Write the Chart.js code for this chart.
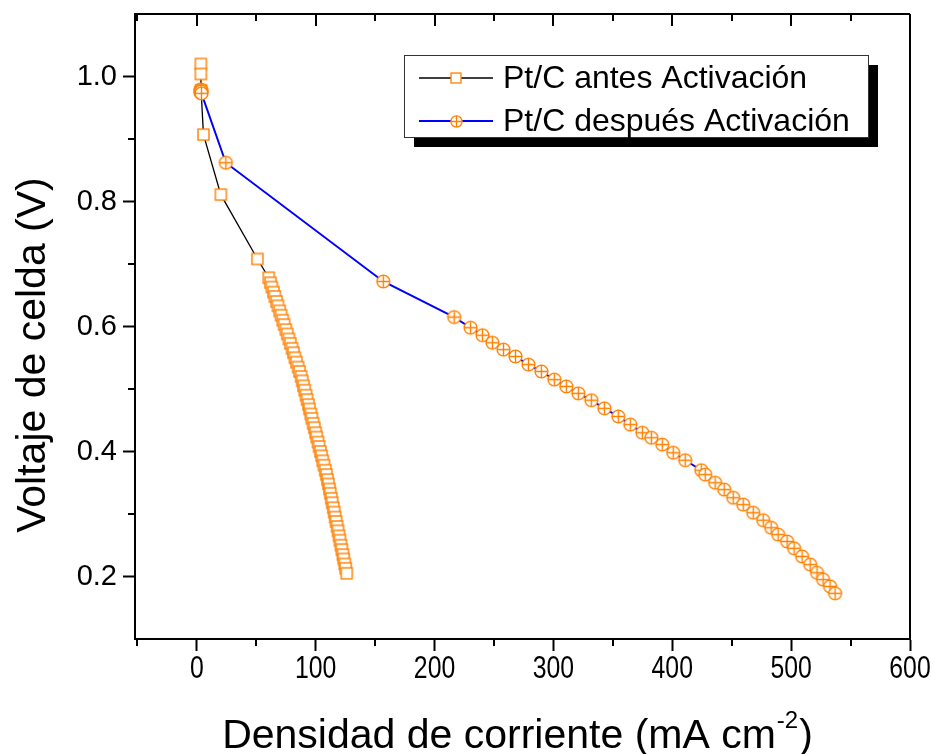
<!DOCTYPE html>
<html>
<head>
<meta charset="utf-8">
<script src="https://cdn.jsdelivr.net/npm/chart.js@4/dist/chart.umd.min.js"></script>
<style>
  html, body { margin: 0; padding: 0; background: #fff; }
  #wrap { width: 935px; height: 754px; position: relative; }
</style>
</head>
<body>
<div id="wrap"><canvas id="c" width="935" height="754"></canvas></div>
<script>
// Polarisation curves: current density (mA cm-2) vs cell voltage (V)
const currentBefore = [3.4, 3.4, 3.6, 5.6, 20.2, 51.0,
  60.5, 61.9, 63.1, 64.5, 65.7, 67.1, 68.3, 69.7, 70.9, 72.3, 73.5, 74.9, 76.1, 77.5, 78.7, 80.1,
  81.3, 82.6, 83.8, 85.2, 86.4, 87.8, 88.7, 89.8, 90.8, 91.9, 92.8, 93.9, 94.8, 95.9, 96.8, 97.9,
  98.9, 100.0, 100.9, 102.0, 102.9, 104.0, 105.0, 106.0, 107.0, 108.1, 109.0, 109.9, 110.7, 111.6,
  112.3, 113.2, 113.9, 114.8, 115.6, 116.4, 117.2, 118.0, 118.8, 119.7, 120.4, 121.3, 122.0, 122.9,
  123.6, 124.5, 125.2, 126.1];
const voltageBefore = [1.020, 1.004, 0.978, 0.907, 0.811, 0.708,
  0.678, 0.670, 0.663, 0.655, 0.648, 0.640, 0.633, 0.625, 0.618, 0.610, 0.603, 0.595, 0.588, 0.580, 0.573, 0.565,
  0.558, 0.550, 0.543, 0.535, 0.528, 0.520, 0.513, 0.505, 0.498, 0.490, 0.483, 0.475, 0.468, 0.460, 0.453, 0.445,
  0.438, 0.430, 0.423, 0.415, 0.408, 0.400, 0.393, 0.385, 0.378, 0.370, 0.363, 0.355, 0.348, 0.340,
  0.333, 0.325, 0.318, 0.310, 0.303, 0.295, 0.288, 0.280, 0.273, 0.265, 0.258, 0.250, 0.243, 0.235,
  0.228, 0.220, 0.213, 0.205];

const currentAfter = [3.2, 3.4, 3.5, 3.7, 3.3, 3.6, 3.9, 24.4, 156.9,
  216.5, 230.3, 240.3, 248.7, 258.0, 268.1, 279.0, 289.9, 300.8, 310.9, 321.0, 331.9, 342.9,
  354.6, 364.7, 374.8, 382.4, 391.6, 400.8, 410.9, 424.4, 427.7, 436.1, 443.7, 451.3, 459.7,
  468.1, 476.5, 483.2, 489.1, 496.6, 502.5, 509.2, 516.0, 521.8, 526.9, 532.8, 537.0];
const voltageAfter = [0.979, 0.977, 0.975, 0.978, 0.974, 0.976, 0.973, 0.862, 0.672,
  0.615, 0.598, 0.586, 0.574, 0.563, 0.552, 0.539, 0.528, 0.515, 0.504, 0.493, 0.482, 0.469,
  0.456, 0.443, 0.430, 0.422, 0.411, 0.398, 0.386, 0.370, 0.363, 0.350, 0.339, 0.326, 0.315,
  0.302, 0.290, 0.278, 0.267, 0.256, 0.245, 0.232, 0.219, 0.206, 0.195, 0.184, 0.173];

const seriesLabels = ['Pt/C antes Activación', 'Pt/C después Activación'];
const xTickValues = [0, 100, 200, 300, 400, 500, 600];
const xMinorValues = [-50, 50, 150, 250, 350, 450, 550];
const yTickValues = [0.2, 0.4, 0.6, 0.8, 1.0];
const yMinorValues = [0.3, 0.5, 0.7, 0.9];

const ORANGE = '#ff8000';
const SANS = '"Liberation Sans", Arial, sans-serif';

function squareSymbol(side, lw) {
  const s = Math.ceil(side + lw + 2);
  const c = document.createElement('canvas');
  c.width = c.height = s;
  const g = c.getContext('2d');
  const o = (s - side) / 2;
  g.fillStyle = '#fff';
  g.fillRect(o, o, side, side);
  g.strokeStyle = ORANGE; g.lineWidth = lw;
  g.strokeRect(o, o, side, side);
  return c;
}
function crossCircleSymbol(r, lw) {
  const s = Math.ceil(2 * r + lw + 2);
  const c = document.createElement('canvas');
  c.width = c.height = s;
  const g = c.getContext('2d');
  const m = s / 2;
  g.fillStyle = '#fff';
  g.strokeStyle = ORANGE; g.lineWidth = lw;
  g.beginPath(); g.arc(m, m, r, 0, Math.PI * 2); g.fill(); g.stroke();
  g.beginPath();
  g.moveTo(m - r, m); g.lineTo(m + r, m);
  g.moveTo(m, m - r); g.lineTo(m, m + r);
  g.stroke();
  return c;
}

const squareMark = squareSymbol(11, 1.4);
const circleMark = crossCircleSymbol(6.4, 1.4);
const squareLegend = squareSymbol(10, 1.3);
const circleLegend = crossCircleSymbol(5.6, 1.3);

const pts = (xs, ys) => xs.map((x, i) => ({ x: x, y: ys[i] }));

// Frame, minor ticks, condensed x labels, legend and axis titles
const decorations = {
  id: 'decorations',
  afterDraw(chart) {
    const { ctx, chartArea: a, scales } = chart;
    const xs = scales.x, ys = scales.y;
    ctx.save();
    ctx.strokeStyle = '#000';
    ctx.lineWidth = 2;
    // top and right frame lines
    ctx.beginPath();
    ctx.moveTo(a.left - 1, a.top); ctx.lineTo(a.right, a.top);
    ctx.moveTo(a.right, a.top); ctx.lineTo(a.right, a.bottom);
    ctx.stroke();
    // minor ticks (outward on bottom/left), and inward ticks on top
    ctx.beginPath();
    xMinorValues.forEach(v => {
      const px = Math.round(xs.getPixelForValue(v));
      ctx.moveTo(px, a.bottom); ctx.lineTo(px, a.bottom + 7);
      ctx.moveTo(px, a.top); ctx.lineTo(px, a.top + 7);
    });
    xTickValues.forEach(v => {
      const px = Math.round(xs.getPixelForValue(v));
      ctx.moveTo(px, a.top); ctx.lineTo(px, a.top + 12);
    });
    yMinorValues.forEach(v => {
      const py = Math.round(ys.getPixelForValue(v));
      ctx.moveTo(a.left, py); ctx.lineTo(a.left - 7, py);
    });
    ctx.stroke();

    // x tick labels, horizontally condensed
    ctx.fillStyle = '#000';
    ctx.font = '31px ' + SANS;
    ctx.textAlign = 'center';
    ctx.textBaseline = 'alphabetic';
    xTickValues.forEach(v => {
      const px = xs.getPixelForValue(v);
      ctx.save();
      ctx.translate(px, a.bottom + 39);
      ctx.scale(0.8, 1);
      ctx.fillText(String(v), 0, 0);
      ctx.restore();
    });

    // legend box with drop shadow
    const L = { x: 404, y: 55, w: 464, h: 82 };
    ctx.fillStyle = '#000';
    ctx.fillRect(L.x + 10, L.y + 10, L.w, L.h);
    ctx.fillStyle = '#fff';
    ctx.fillRect(L.x, L.y, L.w, L.h);
    ctx.lineWidth = 1;
    ctx.strokeStyle = '#333';
    ctx.strokeRect(L.x + 0.5, L.y + 0.5, L.w, L.h);
    const rows = [
      { label: chart.data.datasets[0].label, color: chart.data.datasets[0].borderColor, lw: 1.3, mark: squareLegend, y: L.y + 23 },
      { label: chart.data.datasets[1].label, color: chart.data.datasets[1].borderColor, lw: 2, mark: circleLegend, y: L.y + 66 }
    ];
    rows.forEach(r => {
      ctx.strokeStyle = r.color;
      ctx.lineWidth = r.lw;
      ctx.beginPath(); ctx.moveTo(L.x + 15, r.y); ctx.lineTo(L.x + 89, r.y); ctx.stroke();
      ctx.drawImage(r.mark, Math.round(L.x + 52 - r.mark.width / 2), Math.round(r.y - r.mark.height / 2));
      ctx.fillStyle = '#000';
      ctx.font = '32px ' + SANS;
      ctx.textAlign = 'left';
      ctx.textBaseline = 'middle';
      ctx.fillText(r.label, L.x + 99, r.y + 1);
    });

    // y axis title
    ctx.fillStyle = '#000';
    ctx.font = '41px ' + SANS;
    ctx.save();
    ctx.translate(45, 355);
    ctx.rotate(-Math.PI / 2);
    ctx.textAlign = 'center';
    ctx.textBaseline = 'alphabetic';
    ctx.fillText('Voltaje de celda (V)', 0, 0);
    ctx.restore();

    // x axis title with superscript exponent
    const main = 'Densidad de corriente (mA cm';
    const sup = '-2';
    const close = ')';
    const bigFont = '41px ' + SANS;
    const supFont = '24px ' + SANS;
    ctx.font = bigFont; const w1 = ctx.measureText(main).width; const w3 = ctx.measureText(close).width;
    ctx.font = supFont; const w2 = ctx.measureText(sup).width;
    const total = w1 + w2 + w3 + 2;
    const x0 = (a.left + a.right) / 2 - total / 2 - 5;
    const base = 748;
    ctx.textAlign = 'left'; ctx.textBaseline = 'alphabetic';
    ctx.font = bigFont; ctx.fillText(main, x0, base);
    ctx.font = supFont; ctx.fillText(sup, x0 + w1 + 1, base - 20);
    ctx.font = bigFont; ctx.fillText(close, x0 + w1 + w2 + 2, base);
    ctx.restore();
  }
};

Chart.defaults.color = '#000';
Chart.defaults.font.family = SANS;

const zeroPad = s => { s.paddingTop = 0; s.paddingBottom = 0; s.paddingLeft = 0; s.paddingRight = 0; };

new Chart(document.getElementById('c'), {
  type: 'scatter',
  data: {
    datasets: [
      {
        label: seriesLabels[0],
        data: pts(currentBefore, voltageBefore),
        showLine: true,
        borderColor: '#000',
        borderWidth: 1.3,
        pointStyle: squareMark,
        pointRadius: 6,
        order: 2
      },
      {
        label: seriesLabels[1],
        data: pts(currentAfter, voltageAfter),
        showLine: true,
        borderColor: '#0000ff',
        borderWidth: 2,
        pointStyle: circleMark,
        pointRadius: 7,
        order: 1
      }
    ]
  },
  options: {
    responsive: false,
    animation: false,
    events: [],
    layout: { padding: { left: 10, top: 14, right: 25, bottom: 0 } },
    plugins: { legend: { display: false }, tooltip: { enabled: false } },
    scales: {
      x: {
        type: 'linear',
        min: -52, max: 600,
        afterBuildTicks: s => { s.ticks = xTickValues.map(v => ({ value: v })); },
        afterFit: s => { s.height = 115; zeroPad(s); },
        border: { display: true, color: '#000', width: 2 },
        grid: { display: true, drawOnChartArea: false, drawTicks: true, tickLength: 12, tickWidth: 2, tickColor: '#000' },
        ticks: { display: false },
        title: { display: false }
      },
      y: {
        type: 'linear',
        min: 0.1, max: 1.1,
        afterBuildTicks: s => { s.ticks = yTickValues.map(v => ({ value: v })); },
        afterFit: s => { s.width = 125; zeroPad(s); },
        border: { display: true, color: '#000', width: 2 },
        grid: { display: true, drawOnChartArea: false, drawTicks: true, tickLength: 12, tickWidth: 2, tickColor: '#000' },
        ticks: {
          padding: 6,
          font: { size: 29 },
          callback: v => Number(v).toFixed(1)
        },
        title: { display: false }
      }
    }
  },
  plugins: [decorations]
});
</script>
</body>
</html>
